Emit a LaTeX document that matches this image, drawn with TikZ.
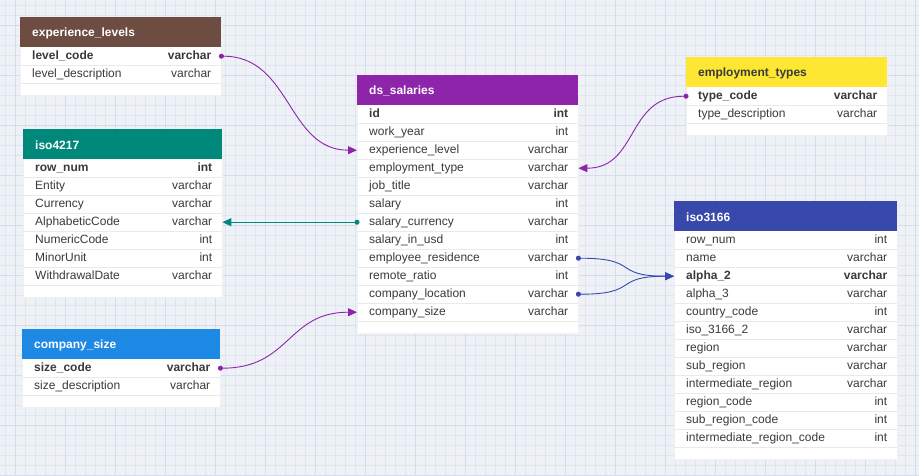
\documentclass[tikz,border=0pt]{standalone}
\usepackage{fontspec}
\setmainfont{Liberation Sans}
\usetikzlibrary{arrows.meta,calc}
\definecolor{bggrid}{HTML}{EEF2F7}
\definecolor{minorg}{HTML}{DFE6F0}
\definecolor{majorg}{HTML}{D3DDEB}
\definecolor{cbrown}{HTML}{6D4C41}
\definecolor{cpurple}{HTML}{8E24AA}
\definecolor{cyellow}{HTML}{FDE733}
\definecolor{cteal}{HTML}{00897B}
\definecolor{cblue}{HTML}{1E88E5}
\definecolor{cindigo}{HTML}{3949AB}
\definecolor{sepc}{HTML}{EAEAEA}
\definecolor{txtc}{HTML}{3A3A3A}
\tikzset{
  tabbox/.style={rectangle, fill=white, draw=black!6, line width=0.4pt, inner sep=0pt, anchor=north west},
  headbox/.style={rectangle, inner sep=0pt, minimum height=30pt, anchor=north west},
  headtxt/.style={anchor=west, inner sep=0pt, font=\fontsize{12}{14}\selectfont\bfseries},
  rowbox/.style={rectangle, inner sep=0pt, minimum height=18pt, anchor=north west},
  fieldtxt/.style={inner sep=0pt, text=txtc, font=\fontsize{12}{14}\selectfont, text height=8.5pt, text depth=2.5pt},
  sepline/.style={draw=sepc, line width=0.6pt},
  conn/.style={line width=0.9pt, shorten <=-2.5pt, arrows={Circle[length=5pt]-Triangle[length=9pt,width=8pt]}},
}
\newcommand\ertable[8]{%
  \xdef\tabw{#4}%
  \node[tabbox, minimum width=#4pt, minimum height={42pt+18pt*#5}] (#1) at (#2,#3) {};
  \node[headbox, fill=#6, minimum width=#4pt] (#1-h) at (#1.north west) {};
  \node[headtxt, text=#7] (#1-ht) at ([xshift=12pt,yshift=-1pt]#1-h.west) {#8};
}
\newcommand\errow[5]{%
  \node[rowbox, minimum width=\tabw pt] (#1-#2) at ($(#1.north west)+(0,{12+18*#2})$) {};
  \node[fieldtxt, anchor=west] (#1-#2-f) at ([xshift=12pt]#1-#2.west) {#5#3};
  \node[fieldtxt, anchor=east] (#1-#2-t) at ([xshift=-10pt]#1-#2.east) {#5#4};
  \draw[sepline] (#1-#2.south west) -- (#1-#2.south east);
}
\begin{document}
\begin{tikzpicture}[x=1pt,y=-1pt]
\useasboundingbox (0,0) rectangle (919,476);
\fill[bggrid] (0,0) rectangle (919,476);
\foreach \gx in {0,10,...,910} \draw[minorg, line width=0.5pt] (\gx+5,0) -- (\gx+5,476);
\foreach \gy in {0,10,...,470} \draw[minorg, line width=0.5pt] (0,\gy+5) -- (919,\gy+5);
\foreach \gx in {0,50,...,900} \draw[majorg, line width=0.5pt] (\gx+15,0) -- (\gx+15,476);
\foreach \gy in {0,50,...,450} \draw[majorg, line width=0.5pt] (0,\gy+25) -- (919,\gy+25);

% experience_levels
\ertable{el}{20}{17}{201}{2}{cbrown}{white}{experience\_levels}
\errow{el}{1}{level\_code}{varchar}{\bfseries}
\errow{el}{2}{level\_description}{varchar}{}

% ds_salaries
\ertable{ds}{357}{75}{221}{12}{cpurple}{white}{ds\_salaries}
\errow{ds}{1}{id}{int}{\bfseries}
\errow{ds}{2}{work\_year}{int}{}
\errow{ds}{3}{experience\_level}{varchar}{}
\errow{ds}{4}{employment\_type}{varchar}{}
\errow{ds}{5}{job\_title}{varchar}{}
\errow{ds}{6}{salary}{int}{}
\errow{ds}{7}{salary\_currency}{varchar}{}
\errow{ds}{8}{salary\_in\_usd}{int}{}
\errow{ds}{9}{employee\_residence}{varchar}{}
\errow{ds}{10}{remote\_ratio}{int}{}
\errow{ds}{11}{company\_location}{varchar}{}
\errow{ds}{12}{company\_size}{varchar}{}

% employment_types
\ertable{et}{686}{57}{201}{2}{cyellow}{txtc}{employment\_types}
\errow{et}{1}{type\_code}{varchar}{\bfseries}
\errow{et}{2}{type\_description}{varchar}{}

% iso4217
\ertable{cur}{23}{129}{199}{7}{cteal}{white}{iso4217}
\errow{cur}{1}{row\_num}{int}{\bfseries}
\errow{cur}{2}{Entity}{varchar}{}
\errow{cur}{3}{Currency}{varchar}{}
\errow{cur}{4}{AlphabeticCode}{varchar}{}
\errow{cur}{5}{NumericCode}{int}{}
\errow{cur}{6}{MinorUnit}{int}{}
\errow{cur}{7}{WithdrawalDate}{varchar}{}

% company_size
\ertable{cs}{22}{329}{198}{2}{cblue}{white}{company\_size}
\errow{cs}{1}{size\_code}{varchar}{\bfseries}
\errow{cs}{2}{size\_description}{varchar}{}

% iso3166
\ertable{ctry}{674}{201}{223}{12}{cindigo}{white}{iso3166}
\errow{ctry}{1}{row\_num}{int}{}
\errow{ctry}{2}{name}{varchar}{}
\errow{ctry}{3}{alpha\_2}{varchar}{\bfseries}
\errow{ctry}{4}{alpha\_3}{varchar}{}
\errow{ctry}{5}{country\_code}{int}{}
\errow{ctry}{6}{iso\_3166\_2}{varchar}{}
\errow{ctry}{7}{region}{varchar}{}
\errow{ctry}{8}{sub\_region}{varchar}{}
\errow{ctry}{9}{intermediate\_region}{varchar}{}
\errow{ctry}{10}{region\_code}{int}{}
\errow{ctry}{11}{sub\_region\_code}{int}{}
\errow{ctry}{12}{intermediate\_region\_code}{int}{}

% connectors
\draw[conn, cpurple] (el-1.east) .. controls +(70,0) and +(-70,0) .. (ds-3.west);
\draw[conn, cpurple] (et-1.west) .. controls +(-60,0) and +(60,0) .. (ds-4.east);
\draw[conn, cteal] (ds-7.west) -- (cur-4.east);
\draw[conn, cpurple] (cs-1.east) .. controls +(70,0) and +(-70,0) .. (ds-12.west);
\draw[conn, cindigo] (ds-9.east) .. controls +(62,0) and +(-62,0) .. (ctry-3.west);
\draw[conn, cindigo] (ds-11.east) .. controls +(62,0) and +(-62,0) .. (ctry-3.west);
\end{tikzpicture}
\end{document}
